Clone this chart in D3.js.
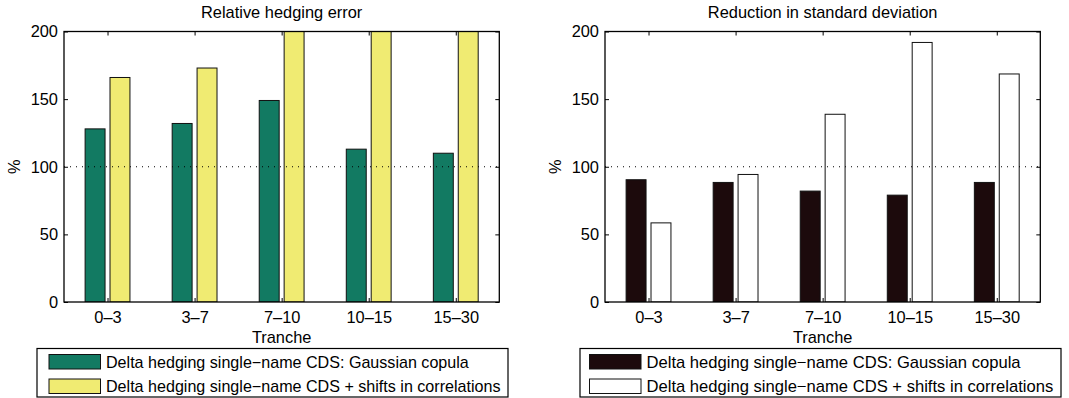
<!DOCTYPE html>
<html>
<head>
<meta charset="utf-8">
<script src="https://cdn.jsdelivr.net/npm/d3@7"></script>
<style>
  html, body { margin: 0; padding: 0; background: #fff; }
  svg { display: block; font-family: "Liberation Sans", Arial, Helvetica, sans-serif; }
</style>
</head>
<body>
<svg id="chart" width="1069" height="398"></svg>
<script>
// Tranche categories shared by both panels
const tranches = ["0\u20133", "3\u20137", "7\u201310", "10\u201315", "15\u201330"];
const yTicks = [0, 50, 100, 150, 200];

// Relative hedging error (%) — shifted-correlation values run off the top of the axis
const errGaussian = [128, 132, 149, 113, 110];
const errShifts = [166, 173, 240, 275, 255];

// Reduction in standard deviation (%)
const sdGaussian = [90.4, 88.4, 82, 79, 88.4];
const sdShifts = [58.5, 94.3, 138.8, 191.9, 168.6];

const seriesNames = [
  "Delta hedging single\u2212name CDS: Gaussian copula",
  "Delta hedging single\u2212name CDS + shifts in correlations"
];

const panels = [
  {
    title: "Relative hedging error",
    left: 64, right: 499.3,
    series: [errGaussian, errShifts],
    colors: ["#127a62", "#f0eb72"],
    legend: { x: 37, w: 471, pad: 12, font: "16.1px" }
  },
  {
    title: "Reduction in standard deviation",
    left: 605, right: 1040.3,
    series: [sdGaussian, sdShifts],
    colors: ["#1c0a0c", "#ffffff"],
    legend: { x: 580, w: 481, pad: 9.5, font: "16.6px" }
  }
];

const plotTop = 31.5, plotBottom = 302;
const fontPx = "16.4px";
const svg = d3.select("#chart");

panels.forEach((p, pi) => {
  const g = svg.append("g");
  // MATLAB-style bar axis: categories at 1..n, limits 0.5..n+0.5
  const x = d3.scaleLinear().domain([0.5, tranches.length + 0.5]).range([p.left, p.right]);
  const y = d3.scaleLinear().domain([0, 200]).range([plotBottom, plotTop]);
  const unit = x(1) - x(0);
  const barW = 0.229 * unit;
  const offsets = [-0.143, 0.143];

  const clipId = "clip" + pi;
  g.append("clipPath").attr("id", clipId)
    .append("rect")
    .attr("x", p.left).attr("y", plotTop)
    .attr("width", p.right - p.left).attr("height", plotBottom - plotTop);

  const bars = g.append("g").attr("clip-path", `url(#${clipId})`);
  p.series.forEach((vals, si) => {
    bars.selectAll(null)
      .data(vals)
      .enter().append("rect")
      .attr("x", (d, i) => x(i + 1 + offsets[si]) - barW / 2)
      .attr("y", d => y(d))
      .attr("width", barW)
      .attr("height", d => y(0) - y(d))
      .attr("fill", p.colors[si])
      .attr("stroke", "#111")
      .attr("stroke-width", 1);
  });

  // Dotted reference line at 100 %
  g.append("line")
    .attr("x1", p.left).attr("x2", p.right)
    .attr("y1", y(100)).attr("y2", y(100))
    .attr("stroke", "#000")
    .attr("stroke-width", 1)
    .attr("stroke-dasharray", "1,5");

  // Axes with inward ticks, mirrored on top and right
  const axStyle = sel => {
    sel.select(".domain").remove();
    sel.selectAll("line").attr("stroke", "#000");
    sel.selectAll("text").attr("fill", "#000").style("font-size", fontPx);
  };
  g.append("g").attr("transform", `translate(0,${plotBottom})`)
    .call(d3.axisBottom(x).tickValues(d3.range(1, tranches.length + 1))
      .tickFormat(d => tranches[d - 1]).tickSizeInner(-4).tickSizeOuter(0).tickPadding(9.5))
    .call(axStyle);
  g.append("g").attr("transform", `translate(0,${plotTop})`)
    .call(d3.axisTop(x).tickValues(d3.range(1, tranches.length + 1))
      .tickFormat("").tickSizeInner(-4).tickSizeOuter(0))
    .call(axStyle);
  g.append("g").attr("transform", `translate(${p.left},0)`)
    .call(d3.axisLeft(y).tickValues(yTicks).tickSizeInner(-4).tickSizeOuter(0).tickPadding(6))
    .call(axStyle);
  g.append("g").attr("transform", `translate(${p.right},0)`)
    .call(d3.axisRight(y).tickValues(yTicks).tickFormat("").tickSizeInner(-4).tickSizeOuter(0))
    .call(axStyle);

  // Plot box
  g.append("rect")
    .attr("x", p.left).attr("y", plotTop)
    .attr("width", p.right - p.left).attr("height", plotBottom - plotTop)
    .attr("fill", "none").attr("stroke", "#000").attr("stroke-width", 1.3);

  // Title and axis labels
  const cx = (p.left + p.right) / 2;
  g.append("text").attr("x", cx).attr("y", 18)
    .attr("text-anchor", "middle").style("font-size", "16.4px").text(p.title);
  g.append("text").attr("x", cx).attr("y", 343)
    .attr("text-anchor", "middle").style("font-size", fontPx).text("Tranche");
  g.append("text")
    .attr("transform", `translate(${p.left - 50},${y(100)}) rotate(-90)`)
    .attr("text-anchor", "middle").attr("dy", "0.35em")
    .style("font-size", fontPx).text("%");

  // Legend
  const lg = g.append("g");
  lg.append("rect")
    .attr("x", p.legend.x).attr("y", 348.5)
    .attr("width", p.legend.w).attr("height", 48.5)
    .attr("fill", "#fff").attr("stroke", "#000").attr("stroke-width", 1.2);
  seriesNames.forEach((name, si) => {
    const ry = 354.5 + si * 24.5;
    lg.append("rect")
      .attr("x", p.legend.x + p.legend.pad).attr("y", ry)
      .attr("width", 51.5).attr("height", 14.5)
      .attr("fill", p.colors[si]).attr("stroke", "#111").attr("stroke-width", 1);
    lg.append("text")
      .attr("x", p.legend.x + p.legend.pad + 57).attr("y", ry + 13)
      .style("font-size", p.legend.font).text(name);
  });
});
</script>
</body>
</html>
